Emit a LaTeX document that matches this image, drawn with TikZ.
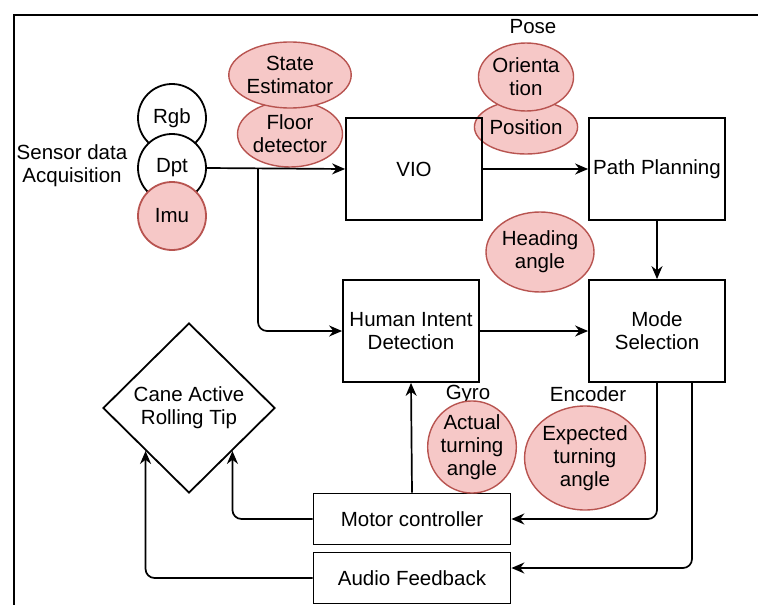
\documentclass[tikz,border=0pt]{standalone}
\usepackage{fontspec}
\setmainfont{Liberation Sans}
\usepackage{xcolor}
\definecolor{mpink}{HTML}{F6C8C7}
\definecolor{mrose}{HTML}{B85450}
\usepackage{tikz}
\usetikzlibrary{shapes.geometric,arrows.meta}

\begin{document}
\begin{tikzpicture}[x=1pt,y=-1pt,
    font=\fontsize{20.5}{23}\selectfont,
    block/.style={draw, line width=1.8pt, minimum width=136pt, minimum height=102pt, align=center, inner sep=2pt},
    longblock/.style={block, minimum width=197pt, minimum height=51pt},
    sensor/.style={ellipse, draw, line width=1.8pt, fill=white, minimum width=68pt, minimum height=68pt, inner sep=0pt},
    redell/.style={ellipse, draw=mrose, line width=1.4pt, fill=mpink, align=center, inner sep=0pt},
    flow/.style={line width=1.7pt, rounded corners=9pt, -{Stealth[length=13pt,width=11pt]}}]
            % Fix the page size
            \useasboundingbox (0,0) rectangle (758,605);
            
            % Draw the frame (top and left sides)
            \draw[line width=2.5pt] (14,605) -- (14,15) -- (758,15);
            
            % Sensors
            \node at (72,166) [align=center] {Sensor data\\Acquisition};
            \node[sensor] (rgb) at (172,118) {Rgb};
            \node[sensor] (dpt) at (172,168) {Dpt};
            \node[sensor, draw=mrose, fill=mpink] (imu) at (172,216) {Imu};
            
            % Estimators above the first branch
            \node[redell, minimum width=105pt, minimum height=66pt] (floor) at (290,134) {Floor\\detector};
            \node[redell, minimum width=105pt, minimum height=66pt] (state) at (290,75) {State\\Estimator};
            
            % Pose
            \node (pose) at (533,27) {Pose};
            \node[redell, minimum width=78pt, minimum height=54pt] (pos) at (526,127) {Position};
            \node[redell, minimum width=78pt, minimum height=68pt] (orient) at (526,77) {Orienta\\tion};
            \node[redell, minimum width=94pt, minimum height=80pt] (heading) at (540,252) {Heading\\angle};
            
            % Main blocks
            \node[block] (vio) at (414,169) {VIO};
            \node[block] (path) at (657,169) {Path Planning};
            \node[block] (human) at (411,331) {Human Intent\\Detection};
            \node[block] (mode) at (657,331) {Mode\\Selection};
            \node[longblock] (motor) at (412,519) {Motor controller};
            \node[longblock] (audio) at (412,578) {Audio Feedback};
            \node[diamond, draw, line width=1.8pt, minimum width=172pt, minimum height=170pt, inner sep=0pt, align=center] (cane) at (189,408) {Cane Active\\Rolling Tip};
            
            % Turning angles
            \node (gyro) at (468,394) {Gyro};
            \node[redell, minimum width=88pt, minimum height=86pt] (actual) at (472,447) {Actual\\turning\\angle};
            \node (encoder) at (588,394) {Encoder};
            \node[redell, minimum width=114pt, minimum height=104pt] (expected) at (585,458) {Expected\\turning\\angle};
            
            % Connectors
            \coordinate (split) at (258,168);
            \draw[flow] (dpt.east) -- (vio.west);
            \draw[flow] (split) |- (human.west);
            \draw[flow] (vio.east) -- (path.west);
            \draw[flow] (path.south) -- (mode.north);
            \draw[flow] (human.east) -- (mode.west);
            \draw[flow] (mode.south) |- (motor.east);
            \draw[flow] ([xshift=35pt]mode.south) |- ([yshift=10pt]audio.east);
            \draw[flow] (motor.north) -- (human.south);
            \draw[flow] (motor.west) -| (cane.south east);
            \draw[flow] (audio.west) -| (cane.south west);
\end{tikzpicture}
\end{document}
